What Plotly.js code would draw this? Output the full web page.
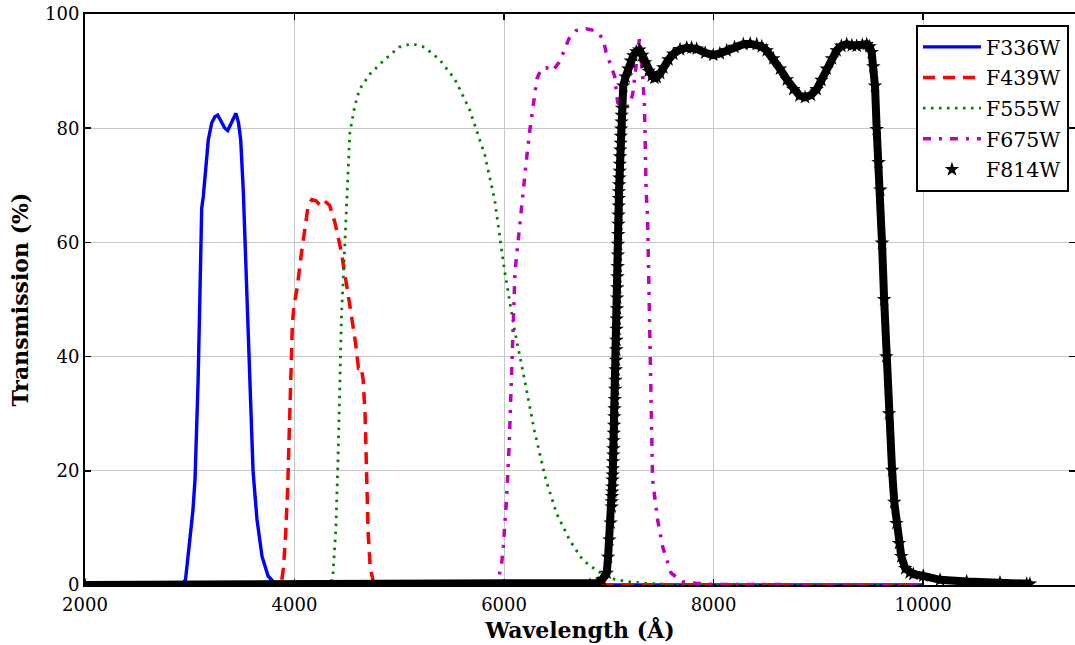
<!DOCTYPE html>
<html>
<head>
<meta charset="utf-8">
<script src="https://cdn.plot.ly/plotly-3.0.1.min.js"></script>
<style>html,body{margin:0;padding:0;background:#fff;}#chart{width:1075px;height:645px;}</style>
</head>
<body>
<div id="chart"></div>
<script>
// ---- data ----
const seriesNames = ["F336W", "F439W", "F555W", "F675W", "F814W"];

const f336wWave = [2000, 2930, 2960, 3000, 3030, 3050, 3080, 3098, 3114, 3129, 3150, 3177, 3209, 3240, 3267, 3300, 3335, 3362, 3400, 3441, 3465, 3486, 3511, 3544, 3575, 3604, 3642, 3690, 3747, 3800, 3850, 10000];
const f336wTrans = [0, 0, 1, 7.5, 13, 18.4, 36, 51.7, 66, 68, 72, 78, 80.9, 82, 82.3, 81.3, 80, 79.6, 81, 82.6, 81, 78, 69, 51.7, 32.4, 20, 11.4, 5, 1.6, 0.5, 0, 0];

const f439wWave = [2000, 3845, 3875, 3895, 3915, 3935, 3950, 3965, 3980, 3995, 4025, 4065, 4095, 4130, 4165, 4205, 4245, 4285, 4335, 4385, 4445, 4495, 4545, 4585, 4610, 4635, 4655, 4673, 4688, 4703, 4723, 4753, 4790, 10000];
const f439wTrans = [0, 0, 0.5, 3, 9, 17, 27, 38, 46, 49, 52, 58, 62, 66.4, 67.5, 67.3, 66.5, 67.3, 66.5, 63.5, 58.5, 53, 47, 42, 38, 38.2, 36, 30, 18, 9, 3, 0.5, 0, 0];

const f555wWave = [2000, 4330, 4365, 4395, 4415, 4433, 4449, 4465, 4481, 4496, 4506, 4528, 4575, 4620, 4720, 4860, 5000, 5120, 5240, 5385, 5530, 5670, 5815, 5910, 6005, 6100, 6195, 6290, 6400, 6500, 6625, 6750, 6880, 7005, 7165, 7355, 7600, 8000, 10000];
const f555wTrans = [0, 0, 1.2, 10, 22, 36, 47.7, 53.5, 59.4, 65.2, 71, 79.2, 83.9, 86.8, 89.5, 92, 94.2, 94.8, 94.2, 92, 88.6, 83.3, 75.4, 67.5, 55, 44.7, 36, 27, 18.4, 12.6, 7.9, 4.4, 2.6, 1.2, 0.6, 0.3, 0.1, 0, 0];

const f675wWave = [2000, 5900, 5945, 5977, 5993, 6009, 6025, 6050, 6075, 6105, 6150, 6180, 6211, 6243, 6275, 6313, 6355, 6402, 6465, 6523, 6576, 6617, 6688, 6783, 6862, 6910, 6949, 6974, 7015, 7054, 7070, 7085, 7140, 7196, 7228, 7244, 7292, 7323, 7340, 7346, 7356, 7370, 7385, 7397, 7418, 7466, 7514, 7594, 7702, 7832, 8000, 10000];
const f675wTrans = [0, 0, 0.9, 3.8, 6.7, 10.8, 15.5, 25, 40, 55, 63, 69, 74, 79.2, 83.7, 88.6, 90.4, 90.6, 90, 91.5, 93.6, 95.6, 97.1, 97.4, 97.1, 96.5, 95.3, 93.3, 91.2, 89.2, 86.8, 84.5, 83.6, 83.9, 86, 88.3, 95.6, 89.2, 84, 79.2, 69, 64.6, 50, 32, 18.4, 11.4, 6.7, 2.1, 0.6, 0.3, 0.1, 0];

const f814wWave = [2000, 6820, 6897, 6935, 6980, 6993, 7006, 7017,
  7028, 7029, 7031, 7033, 7034, 7036, 7037, 7039, 7041, 7043, 7044, 7046, 7048, 7051, 7053, 7055, 7058, 7061, 7063, 7066, 7069, 7071,
  7073, 7074, 7076, 7078, 7080, 7081, 7083, 7085, 7087, 7088, 7090, 7092, 7093, 7095, 7096, 7097,
  7099, 7101, 7104, 7106, 7108, 7110, 7113, 7115, 7118, 7121, 7123, 7127,
  7138, 7160, 7186, 7210, 7234, 7262, 7291, 7320, 7346, 7380, 7410, 7435, 7457, 7490, 7520, 7570, 7616, 7680, 7744, 7790, 7839, 7920, 7997, 8060, 8125, 8200, 8284, 8350, 8412, 8460, 8507, 8570, 8634, 8700, 8761, 8820, 8873, 8930, 8984, 9030, 9080, 9130, 9175, 9220, 9271, 9320, 9366, 9420, 9462, 9490, 9509, 9525, 9541, 9557, 9575, 9592, 9608, 9628, 9649, 9675, 9704, 9725, 9745, 9770, 9792, 9830, 9872, 9907, 10002, 10162, 10416, 10734, 10989, 11020];
const f814wTrans = [0, 0, 0.35, 0.9, 2.1, 4.9, 7.9, 10.9,
  13.7, 14.6, 15.5, 16.3, 17.2, 18.4, 19.3, 20.4, 21.6, 22.8, 23.9, 25.3, 26.6, 28.0, 29.5, 30.9, 32.5, 34.3, 35.9, 37.7, 39.4, 41.2,
  42.9, 44.8, 46.6, 48.4, 50.3, 52.1, 54.0, 55.8, 57.8, 59.7, 61.4, 63.2, 64.8, 66.4, 67.7, 68.9,
  70.1, 71.3, 72.5, 73.7, 75.0, 76.2, 77.4, 78.6, 79.9, 81.1, 82.3, 83.5,
  87.4, 89, 90.4, 91.8, 92.7, 93.4, 93.7, 92.8, 91.5, 90, 89.2, 88.8, 88.9, 89.6, 90.6, 92, 93, 93.8, 94.1, 94.1, 93.9, 93.2, 92.8, 93.1, 93.6, 94.2, 94.7, 94.8, 94.7, 94.3, 93.6, 92.2, 90.4, 88.5, 86.8, 85.7, 85.4, 85.8, 86.8, 88.4, 90.4, 92.2, 93.6, 94.4, 94.7, 94.5, 94.4, 94.6, 94.7, 94.3, 93.3, 90.8, 87.4, 79.8, 74, 69.2, 59.9, 50, 40, 30, 20.1, 14.5, 10.8, 7.3, 5, 2.9, 2.2, 1.9, 1.6, 0.9, 0.6, 0.4, 0.2, 0.2];

const xTicks = [2000, 4000, 6000, 8000, 10000];
const yTicks = [0, 20, 40, 60, 80, 100];

// ---- traces ----
const traces = [
  {x: f336wWave, y: f336wTrans, name: seriesNames[0], legendgroup: 'a', type: 'scatter', mode: 'lines',
   line: {color: '#0000ff', width: 3.4}},
  {x: f439wWave, y: f439wTrans, name: seriesNames[1], legendgroup: 'b', type: 'scatter', mode: 'lines',
   line: {color: '#ff0000', width: 3.5, dash: '12px,8px'}},
  {x: f555wWave, y: f555wTrans, name: seriesNames[2], legendgroup: 'c', type: 'scatter', mode: 'lines',
   line: {color: '#008000', width: 2.8, dash: '2.5px,5.5px'}},
  {x: f675wWave, y: f675wTrans, name: seriesNames[3], legendgroup: 'd', type: 'scatter', mode: 'lines',
   line: {color: '#bf00bf', width: 3.5, dash: '8px,8px,3px,8px'}},
  {x: f814wWave, y: f814wTrans, name: seriesNames[4], legendgroup: 'e', type: 'scatter', mode: 'lines',
   line: {color: '#000000', width: 8}, showlegend: false, hoverinfo: 'skip'},
  {x: f814wWave, y: f814wTrans, name: seriesNames[4], legendgroup: 'e', type: 'scatter', mode: 'markers',
   marker: {symbol: 'star', size: 11, color: '#000000', line: {width: 0}}}
];

const axisCommon = {
  showline: true, linecolor: '#000', linewidth: 2, mirror: 'allticks',
  ticks: 'inside', ticklen: 6, tickwidth: 1.5, tickcolor: '#000',
  showgrid: true, gridcolor: '#c8c8c8', gridwidth: 1, zeroline: false,
  tickfont: {family: 'DejaVu Serif', size: 18, color: '#000'}
};

const layout = {
  width: 1075, height: 645,
  margin: {l: 85, r: 0, t: 14, b: 60},
  paper_bgcolor: '#fff', plot_bgcolor: '#fff',
  font: {family: 'DejaVu Serif', color: '#000'},
  showlegend: true,
  xaxis: Object.assign({}, axisCommon, {
    range: [2000, 11450], tickvals: xTicks, ticktext: xTicks.map(String), ticklabelstandoff: 2,
    title: {text: '<b>Wavelength (Å)</b>', font: {family: 'DejaVu Serif', size: 22, color: '#000'}, standoff: 9}
  }),
  yaxis: Object.assign({}, axisCommon, {
    range: [0, 100], tickvals: yTicks, ticktext: yTicks.map(String),
    title: {text: '<b>Transmission (%)</b>', font: {family: 'DejaVu Serif', size: 22, color: '#000'}, standoff: 10}
  }),
  legend: {
    x: 0.9939, xanchor: 'right', y: 0.9807, yanchor: 'top',
    bgcolor: '#fff', bordercolor: '#000', borderwidth: 2,
    font: {family: 'DejaVu Serif', size: 20.5, color: '#000'},
    itemwidth: 58, tracegroupgap: 1, traceorder: 'grouped'
  }
};

Plotly.newPlot('chart', traces, layout, {displayModeBar: false, staticPlot: true});
</script>
</body>
</html>
